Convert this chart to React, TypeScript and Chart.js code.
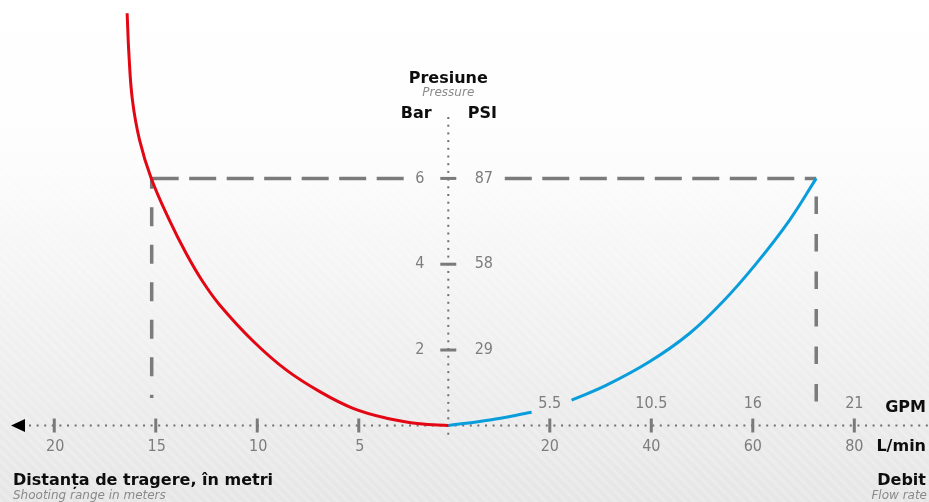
import React, { useEffect, useRef } from "react";
import { Chart, registerables } from "chart.js";

Chart.register(...registerables);

// Shooting range curve (left half): distance in metres vs pressure in bar
const rangeMeters = [16.41, 16.32, 16.15, 15.8, 15.22, 14.31, 13.5, 12.68, 11.85, 10.21, 8.56, 6.92, 5.28, 3.63, 1.99, 0.59];
const rangeBar = [9.85, 8.88, 7.83, 6.9, 6.0, 5.01, 4.25, 3.59, 3.05, 2.21, 1.53, 1.03, 0.64, 0.41, 0.28, 0.24];

// Flow rate curve (right half): L/min vs pressure in bar (null = break around the "5.5" label)
const flowLpm = [0, 8.21, 16.42, 20.4, 24.29, 31.18, 39.7, 47.58, 54.13, 60.71, 67.26, 72.5];
const flowBar: (number | null)[] = [0.24, 0.37, 0.55, null, 0.83, 1.18, 1.73, 2.39, 3.13, 4.02, 5.03, 6.0];

// Axis ticks
const meterTicks = [20, 15, 10, 5];
const lpmTicks = [20, 40, 60, 80];
const gpmLabels = ["5.5", "10.5", "16", "21"];
const barTicks = [2, 4, 6];
const psiLabels = ["29", "58", "87"];

// Guide (dashed) reference point
const GUIDE_BAR = 6;
const GUIDE_RANGE_M = 15.2;
const GUIDE_FLOW_LPM = 72.5;

// Axis position / unit conversion
const AXIS_BAR = 0.24;
const METER_ZERO = 2.36;
const UNITS_PER_METER = 4;
const meterToX = (m: number) => METER_ZERO - UNITS_PER_METER * m;

const X_MIN = -88.33;
const X_MAX = 94.72;
const Y_MIN = -1.543;
const Y_MAX = 10.159;

const TICK_FONT = "16px 'DejaVu Sans Condensed', 'DejaVu Sans', sans-serif";
const BOLD_FONT = "bold 16px 'DejaVu Sans', sans-serif";
const ITALIC_FONT = "italic 12px 'DejaVu Sans', sans-serif";

const diagramPlugin = {
  id: "diagram",
  beforeDatasetsDraw(chart: any) {
    const { ctx } = chart;
    const x = chart.scales.x;
    const y = chart.scales.y;
    const ax = x.getPixelForValue(0);
    const ay = y.getPixelForValue(AXIS_BAR);
    const line = (x1: number, y1: number, x2: number, y2: number) => {
      ctx.beginPath();
      ctx.moveTo(x1, y1);
      ctx.lineTo(x2, y2);
      ctx.stroke();
    };
    ctx.save();
    // dashed guides
    ctx.strokeStyle = "#7b7b7b";
    ctx.lineWidth = 3.5;
    const gy = y.getPixelForValue(GUIDE_BAR);
    const lx = x.getPixelForValue(meterToX(GUIDE_RANGE_M));
    const rx = x.getPixelForValue(GUIDE_FLOW_LPM);
    ctx.setLineDash([27, 10.5]);
    ctx.lineDashOffset = 0;
    line(lx, gy, ax - 38.5, gy);
    line(ax + 56.5, gy, rx, gy);
    ctx.setLineDash([19, 18.5]);
    ctx.lineDashOffset = 8.6;
    line(lx, gy, lx, ay - 27.5);
    ctx.setLineDash([17.5, 20]);
    ctx.lineDashOffset = 19.3;
    line(rx, gy, rx, ay - 12.5);
    ctx.setLineDash([]);

    // dotted axes
    ctx.fillStyle = "#707070";
    for (let px = 30; px < chart.width; px += 7.6) ctx.fillRect(px - 1, ay - 1, 2, 2);
    for (let py = 118; py < ay + 10; py += 7.7) ctx.fillRect(ax - 1, py - 1, 2, 2);

    // arrow
    ctx.fillStyle = "#000";
    ctx.beginPath();
    ctx.moveTo(11, ay);
    ctx.lineTo(25, ay - 6.5);
    ctx.lineTo(25, ay + 6.5);
    ctx.closePath();
    ctx.fill();

    // ticks
    ctx.strokeStyle = "#7a7a7a";
    ctx.lineWidth = 3;
    meterTicks.forEach((m) => {
      const px = x.getPixelForValue(meterToX(m));
      line(px, ay - 7, px, ay + 7);
    });
    lpmTicks.forEach((v) => {
      const px = x.getPixelForValue(v);
      line(px, ay - 7, px, ay + 7);
    });
    barTicks.forEach((b) => {
      const py = y.getPixelForValue(b);
      line(ax - 8, py, ax + 8, py);
    });
    ctx.restore();
  },
  afterDraw(chart: any) {
    const { ctx } = chart;
    const x = chart.scales.x;
    const y = chart.scales.y;
    const ax = x.getPixelForValue(0);
    const ay = y.getPixelForValue(AXIS_BAR);
    const W = chart.width;
    ctx.save();
    // tick labels
    ctx.font = TICK_FONT;
    ctx.fillStyle = "#7d7d7d";
    ctx.textAlign = "center";
    ctx.textBaseline = "middle";
    meterTicks.forEach((m) => {
      ctx.fillText(String(m), x.getPixelForValue(meterToX(m)) + 1, ay + 21);
    });
    lpmTicks.forEach((v, i) => {
      const px = x.getPixelForValue(v);
      ctx.fillText(String(v), px, ay + 21);
      ctx.fillText(gpmLabels[i], px, ay - 22);
    });
    barTicks.forEach((b, i) => {
      const py = y.getPixelForValue(b);
      ctx.fillText(String(b), ax - 28.5, py);
      ctx.fillText(psiLabels[i], ax + 35.5, py);
    });

    // titles
    ctx.textBaseline = "alphabetic";
    ctx.fillStyle = "#0d0d0d";
    ctx.font = BOLD_FONT;
    ctx.textAlign = "center";
    ctx.fillText("Presiune", ax, 83);
    ctx.fillText("Bar", ax - 32, 118);
    ctx.fillText("PSI", ax + 34, 118);
    ctx.textAlign = "right";
    ctx.fillText("GPM", W - 3, ay - 14);
    ctx.fillText("L/min", W - 3, ay + 25);
    ctx.fillText("Debit", W - 3, 485);
    ctx.textAlign = "left";
    ctx.fillText("Distanța de tragere, în metri", 13, 485);

    ctx.font = ITALIC_FONT;
    ctx.fillStyle = "#8a8a8a";
    ctx.textAlign = "center";
    ctx.fillText("Pressure", ax, 96);
    ctx.textAlign = "left";
    ctx.fillText("Shooting range in meters", 13, 499);
    ctx.textAlign = "right";
    ctx.fillText("Flow rate", W - 2, 499);
    ctx.restore();
  },
};

export default function App() {
  const canvasRef = useRef<HTMLCanvasElement | null>(null);

  useEffect(() => {
    const canvas = canvasRef.current;
    if (!canvas) return;
    const rangeData = rangeMeters.map((m, i) => ({ x: meterToX(m), y: rangeBar[i] }));
    rangeData.sort((a, b) => a.x - b.x);
    const flowData = flowLpm.map((v, i) => ({ x: v, y: flowBar[i] }));

    const chart = new Chart(canvas, {
      type: "scatter",
      data: {
        datasets: [
          {
            label: "Distanța de tragere",
            data: rangeData,
            showLine: true,
            borderColor: "#e30613",
            borderWidth: 3,
            pointRadius: 0,
            tension: 0.4,
            spanGaps: false,
          },
          {
            label: "Debit",
            data: flowData as any,
            showLine: true,
            borderColor: "#0a9ddc",
            borderWidth: 3,
            pointRadius: 0,
            tension: 0.4,
            spanGaps: false,
          },
        ],
      },
      options: {
        animation: false,
        responsive: false,
        maintainAspectRatio: false,
        layout: { padding: 0 },
        plugins: { legend: { display: false }, tooltip: { enabled: false } },
        events: [],
        scales: {
          x: { type: "linear", min: X_MIN, max: X_MAX, display: false },
          y: { type: "linear", min: Y_MIN, max: Y_MAX, display: false },
        },
      },
      plugins: [diagramPlugin],
    });
    return () => chart.destroy();
  }, []);

  return (
    <div
      style={{
        position: "fixed",
        left: 0,
        top: 0,
        width: 929,
        height: 502,
        overflow: "hidden",
        background:
          "repeating-linear-gradient(45deg, rgba(255,255,255,0.18) 0px, rgba(255,255,255,0.18) 3px, rgba(0,0,0,0) 3px, rgba(0,0,0,0) 7px), linear-gradient(to bottom, #ffffff 0%, #fdfdfd 30%, #f1f1f1 65%, #e6e6e6 100%)",
      }}
    >
      <canvas ref={canvasRef} width={929} height={502} style={{ display: "block", width: 929, height: 502 }} />
    </div>
  );
}
